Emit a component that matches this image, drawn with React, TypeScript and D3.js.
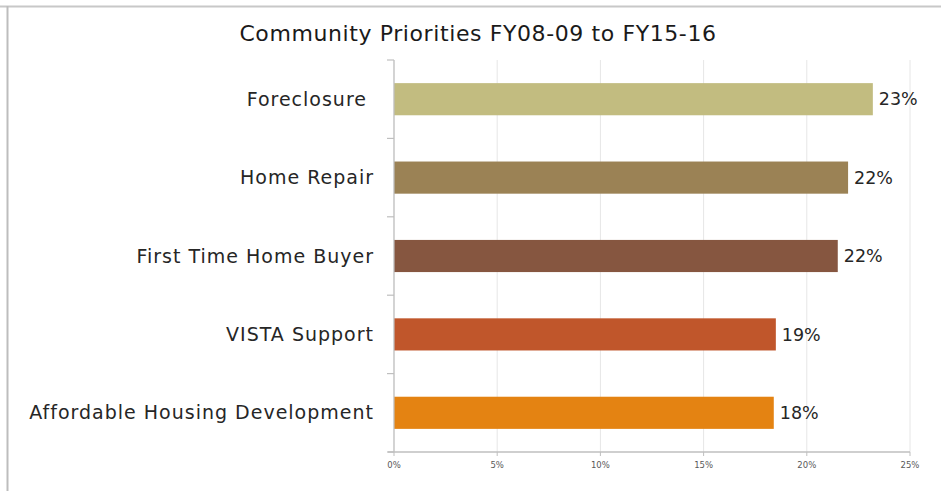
import React from 'react';
import * as d3 from 'd3';

const categories = [
  'Foreclosure ',
  'Home Repair',
  'First Time Home Buyer',
  'VISTA Support',
  'Affordable Housing Development',
];
const values = [23.2, 22.0, 21.5, 18.5, 18.4];
const valueLabels = ['23%', '22%', '22%', '19%', '18%'];
const barColors = ['#c2bc80', '#9b8255', '#865640', '#c0562b', '#e48312'];
const xTicks = [0, 5, 10, 15, 20, 25];
const title = 'Community Priorities FY08-09 to FY15-16';

const W = 941;
const H = 491;
const margin = { top: 60, right: 31, bottom: 39, left: 394 };
const font = "'DejaVu Sans', sans-serif";

export default function App() {
  const innerW = W - margin.left - margin.right;
  const innerH = H - margin.top - margin.bottom;

  const x = d3.scaleLinear().domain([0, 25]).range([0, innerW]);
  const y = d3.scaleBand().domain(categories).range([0, innerH]).paddingInner(0.59).paddingOuter(0.295);
  const step = innerH / categories.length;
  const boundaries = d3.range(categories.length + 1).map(i => i * step);

  return (
    <svg width={W} height={H} style={{ position: 'absolute', left: 0, top: 0, background: '#fff' }}>
      {/* frame */}
      <line x1={0} x2={W} y1={6.5} y2={6.5} stroke="#c8c8c8" strokeWidth={2} />
      <line x1={7.5} x2={7.5} y1={6} y2={H} stroke="#bdbdbd" strokeWidth={2} />

      <text x={478} y={41} textAnchor="middle" fill="#1a1a1a" style={{ fontFamily: font, fontSize: 22, letterSpacing: 0.6 }}>
        {title}
      </text>

      <g transform={`translate(${margin.left},${margin.top})`}>
        {xTicks.map(t => (
          <line key={`g${t}`} x1={x(t)} x2={x(t)} y1={0} y2={innerH} stroke="#e6e6e6" strokeWidth={1} />
        ))}

        {categories.map((c, i) => (
          <rect key={c} x={0} y={y(c)} width={x(values[i])} height={y.bandwidth()} fill={barColors[i]} />
        ))}

        {/* y axis */}
        <line x1={0} x2={0} y1={0} y2={innerH} stroke="#bfbfbf" strokeWidth={1.2} />
        {boundaries.map((b, i) => (
          <line key={`yt${i}`} x1={-7} x2={0} y1={b} y2={b} stroke="#bfbfbf" strokeWidth={1.2} />
        ))}

        {/* x axis */}
        <line x1={-6} x2={innerW} y1={innerH} y2={innerH} stroke="#bfbfbf" strokeWidth={1.5} />
        {xTicks.map(t => (
          <g key={`xt${t}`}>
            <line x1={x(t)} x2={x(t)} y1={innerH} y2={innerH + 4} stroke="#bfbfbf" />
            <text x={x(t)} y={innerH + 16} textAnchor="middle" fill="#595959" style={{ fontFamily: font, fontSize: 8.5 }}>
              {`${t}%`}
            </text>
          </g>
        ))}

        {categories.map((c, i) => (
          <text
            key={`l${c}`}
            x={-20}
            y={(y(c) as number) + y.bandwidth() / 2}
            dy="0.35em"
            textAnchor="end"
            fill="#262626"
            style={{ fontFamily: font, fontSize: 19, letterSpacing: 1, whiteSpace: 'pre' }}
          >
            {c}
          </text>
        ))}

        {categories.map((c, i) => (
          <text
            key={`v${c}`}
            x={x(values[i]) + 6}
            y={(y(c) as number) + y.bandwidth() / 2}
            dy="0.35em"
            fill="#262626"
            style={{ fontFamily: font, fontSize: 17.5 }}
          >
            {valueLabels[i]}
          </text>
        ))}
      </g>
    </svg>
  );
}
